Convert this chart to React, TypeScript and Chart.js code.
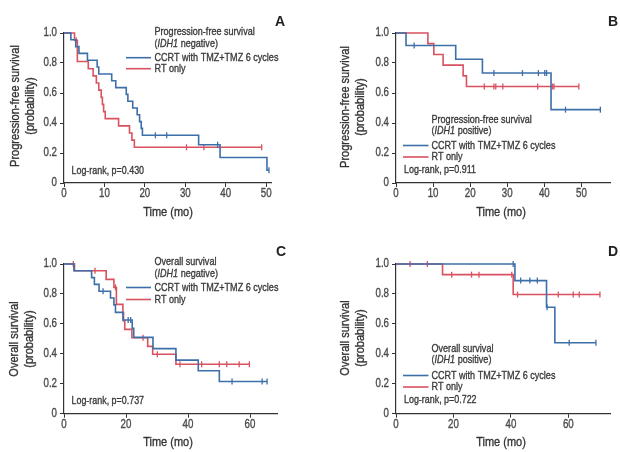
import React, { useEffect, useRef } from 'react';
import { Chart, registerables } from 'chart.js';
Chart.register(...registerables);

const FONT = "'Liberation Sans', Arial, sans-serif";
const SX = 0.81; // horizontal condensing to mimic a condensed typeface
const BLUE = '#3d6fa9';
const RED = '#d8525f';
const TXT = '#3a3a3a';
const TICK = '#4a4a4a';

// Panel A: Progression-free survival, IDH1 negative
const aBlueT = [1.7, 2.9, 3.7, 5.8, 8.2, 8.6, 11.8, 12.8, 15.4, 15.8, 17.0, 18.1, 18.7, 19.1, 19.4, 33.3, 38.6, 50.2];
const aBlueS = [0.955, 0.909, 0.864, 0.818, 0.773, 0.727, 0.682, 0.636, 0.591, 0.545, 0.5, 0.455, 0.409, 0.364, 0.318, 0.255, 0.17, 0.085];
const aBlueCens = [22.6, 25.4, 38.0, 50.7];
const aRedT = [2.6, 3.3, 6.0, 7.2, 8.0, 8.6, 9.2, 9.5, 9.8, 10.2, 13.5, 16.2, 16.8, 17.4];
const aRedS = [0.952, 0.81, 0.762, 0.714, 0.667, 0.619, 0.571, 0.524, 0.476, 0.429, 0.381, 0.333, 0.286, 0.238];
const aRedCens = [3.0, 30.3, 34.6, 48.9];

// Panel B: Progression-free survival, IDH1 positive
const bBlueT = [2.7, 16.1, 23.3, 41.8];
const bBlueS = [0.917, 0.825, 0.733, 0.489];
const bBlueCens = [4.9, 26.4, 34.1, 38.4, 40.1, 40.6, 45.7, 55.1];
const bRedT = [8.6, 10.2, 12.7, 18.1, 19.0];
const bRedS = [0.929, 0.857, 0.786, 0.714, 0.643];
const bRedCens = [23.8, 26.4, 26.9, 28.8, 38.2, 42.2, 42.6, 49.3];

// Panel C: Overall survival, IDH1 negative
const cBlueT = [3.2, 8.9, 9.8, 11.3, 15.0, 16.1, 16.6, 19.0, 22.0, 22.5, 28.7, 36.1, 43.3, 50.1];
const cBlueS = [0.955, 0.909, 0.864, 0.818, 0.773, 0.727, 0.677, 0.626, 0.57, 0.51, 0.435, 0.358, 0.287, 0.215];
const cBlueCens = [12.6, 20.7, 21.5, 54.2, 63.9, 65.5];
const cRedT = [3.4, 13.6, 16.1, 16.9, 19.0, 19.2, 19.6, 21.9, 27.0, 28.6, 36.1];
const cRedS = [0.955, 0.897, 0.844, 0.73, 0.675, 0.62, 0.563, 0.507, 0.45, 0.397, 0.33];
const cRedCens = [3.0, 10.0, 16.6, 25.5, 30.1, 37.4, 44.4, 50.1, 52.5, 56.5, 59.8];

// Panel D: Overall survival, IDH1 positive
const dBlueT = [41.4, 52.4, 55.3];
const dBlueS = [0.889, 0.711, 0.474];
const dBlueCens = [40.8, 43.4, 46.6, 49.2, 52.6, 60.3, 69.6];
const dRedT = [16.2, 40.8];
const dRedS = [0.929, 0.796];
const dRedCens = [4.9, 10.9, 19.4, 26.3, 28.9, 40.3, 42.3, 56.5, 61.7, 63.8, 71.0];

const yTicks = [0, 0.2, 0.4, 0.6, 0.8, 1.0];
const yTickLabels = ['0', '0.2', '0.4', '0.6', '0.8', '1.0'];
const seriesNames = ['CCRT with TMZ+TMZ 6 cycles', 'RT only'];

function stepAt(ts: number[], ss: number[], t: number) {
  let v = 1;
  for (let i = 0; i < ts.length; i++) if (ts[i] <= t) v = ss[i];
  return v;
}
function curve(ts: number[], ss: number[], cens: number[]) {
  const end = Math.max(ts[ts.length - 1], ...cens);
  const pts = [{ x: 0, y: 1 }];
  ts.forEach((t, i) => pts.push({ x: t, y: ss[i] }));
  pts.push({ x: end, y: ss[ss.length - 1] });
  return pts;
}
function censPts(ts: number[], ss: number[], cens: number[]) {
  return cens.map((t) => ({ x: t, y: stepAt(ts, ss, t) }));
}

function txt(ctx: CanvasRenderingContext2D, s: string, x: number, y: number, align: CanvasTextAlign, font: string, color: string, rot = 0, sx = SX, weight = 0.35) {
  ctx.save();
  ctx.font = font;
  ctx.fillStyle = color;
  ctx.strokeStyle = color;
  ctx.lineWidth = weight;
  ctx.lineJoin = 'round';
  ctx.textAlign = align;
  ctx.textBaseline = 'middle';
  ctx.translate(x, y);
  if (rot) ctx.rotate(rot);
  ctx.scale(sx, 1);
  ctx.fillText(s, 0, 0);
  if (weight > 0) ctx.strokeText(s, 0, 0);
  const w = ctx.measureText(s).width * sx;
  ctx.restore();
  return w;
}

type PanelDef = {
  left: number; top: number; w: number; h: number;
  pad: { left: number; top: number; right: number; bottom: number };
  xMax: number; xStep: number;
  blue: [number[], number[], number[]]; red: [number[], number[], number[]];
  letter: string; letterPos: [number, number];
  header: string; idh: string; pval: string;
  hx: number; hy: number; lineX: [number, number]; textX: number; l1y: number; l2y: number;
  logX: number; logY: number;
  xTitle: [number, number]; yTitle: string; yTitleX: [number, number]; yTitleY: number;
};

const panels: PanelDef[] = [
  {
    left: 0, top: 0, w: 310, h: 226, pad: { left: 34, top: 33, right: 39, bottom: 23 },
    xMax: 51.2, xStep: 10, blue: [aBlueT, aBlueS, aBlueCens], red: [aRedT, aRedS, aRedCens],
    letter: 'A', letterPos: [280, 22], header: 'Progression-free survival', idh: 'negative', pval: 'Log-rank, p=0.430',
    hx: 154.5, hy: 32, lineX: [126, 151], textX: 154.5, l1y: 57.7, l2y: 68.7, logX: 71.5, logY: 170.5,
    xTitle: [168, 212], yTitle: 'Progression-free survival', yTitleX: [15, 30.5], yTitleY: 106,
  },
  {
    left: 310, top: 0, w: 310, h: 226, pad: { left: 56, top: 33, right: 10, bottom: 23 },
    xMax: 57.7, xStep: 10, blue: [bBlueT, bBlueS, bBlueCens], red: [bRedT, bRedS, bRedCens],
    letter: 'B', letterPos: [613, 22], header: 'Progression-free survival', idh: 'positive', pval: 'Log-rank, p=0.911',
    hx: 431.5, hy: 119.5, lineX: [403, 428.5], textX: 431.5, l1y: 145.5, l2y: 157, logX: 404, logY: 169.5,
    xTitle: [501, 212], yTitle: 'Progression-free survival', yTitleX: [345, 360], yTitleY: 107,
  },
  {
    left: 0, top: 226, w: 310, h: 226, pad: { left: 34, top: 38, right: 33, bottom: 18.3 },
    xMax: 68.7, xStep: 20, blue: [cBlueT, cBlueS, cBlueCens], red: [cRedT, cRedS, cRedCens],
    letter: 'C', letterPos: [281, 252], header: 'Overall survival', idh: 'negative', pval: 'Log-rank, p=0.737',
    hx: 154.5, hy: 262, lineX: [126, 151], textX: 154.5, l1y: 287.5, l2y: 299.5, logX: 71.5, logY: 400.5,
    xTitle: [168, 442], yTitle: 'Overall survival', yTitleX: [14, 29.5], yTitleY: 339,
  },
  {
    left: 310, top: 226, w: 310, h: 226, pad: { left: 56, top: 38, right: 10, bottom: 18.3 },
    xMax: 74.5, xStep: 20, blue: [dBlueT, dBlueS, dBlueCens], red: [dRedT, dRedS, dRedCens],
    letter: 'D', letterPos: [613, 252], header: 'Overall survival', idh: 'positive', pval: 'Log-rank, p=0.722',
    hx: 431.5, hy: 348.5, lineX: [403, 428.5], textX: 431.5, l1y: 375.5, l2y: 387, logX: 404, logY: 400,
    xTitle: [501, 442], yTitle: 'Overall survival', yTitleX: [345, 360], yTitleY: 338,
  },
];

function Panel({ p }: { p: PanelDef }) {
  const ref = useRef<HTMLCanvasElement | null>(null);
  useEffect(() => {
    const ox = p.left, oy = p.top;
    const textPlugin = {
      id: 'kmText',
      afterDraw(chart: any) {
        const ctx = chart.ctx as CanvasRenderingContext2D;
        const xs = chart.scales.x, ys = chart.scales.y, area = chart.chartArea;
        // tick labels
        const tf = `12px ${FONT}`;
        yTicks.forEach((v, i) => {
          txt(ctx, yTickLabels[i], area.left - 7, ys.getPixelForValue(v), 'right', tf, TICK);
        });
        for (let v = 0; v <= p.xMax + 1e-9; v += p.xStep) {
          txt(ctx, String(v), xs.getPixelForValue(v), area.bottom + 11, 'center', tf, TICK);
        }
        ctx.save();
        ctx.translate(-ox, -oy);
        // panel letter
        txt(ctx, p.letter, p.letterPos[0], p.letterPos[1], 'center', `bold 14px ${FONT}`, '#222', 0, 1, 0);
        // legend header
        const lf = `11.2px ${FONT}`;
        txt(ctx, p.header, p.hx, p.hy, 'left', lf, TXT);
        let x = p.hx;
        const y2 = p.hy + 11.5;
        x += txt(ctx, '(', x, y2, 'left', lf, TXT);
        x += txt(ctx, 'IDH1', x, y2, 'left', `italic 11.2px ${FONT}`, TXT);
        txt(ctx, ' ' + p.idh + ')', x, y2, 'left', lf, TXT);
        // legend entries
        ([[BLUE, p.l1y, seriesNames[0]], [RED, p.l2y, seriesNames[1]]] as any[]).forEach(([c, yy, name]) => {
          ctx.strokeStyle = c;
          ctx.lineWidth = 1.6;
          ctx.beginPath();
          ctx.moveTo(p.lineX[0], yy);
          ctx.lineTo(p.lineX[1], yy);
          ctx.stroke();
          txt(ctx, name, p.textX, yy, 'left', lf, TXT);
        });
        txt(ctx, p.pval, p.logX, p.logY, 'left', `11px ${FONT}`, TXT);
        // axis titles
        const af = `13.6px ${FONT}`;
        txt(ctx, 'Time (mo)', p.xTitle[0], p.xTitle[1], 'center', af, '#333');
        [p.yTitle, '(probability)'].forEach((s, i) => {
          txt(ctx, s, p.yTitleX[i], p.yTitleY, 'center', af, '#333', -Math.PI / 2);
        });
        ctx.restore();
      },
    };
    const lineDs = (d: [number[], number[], number[]], color: string) => ({
      data: curve(d[0], d[1], d[2]), borderColor: color, borderWidth: 1.6, stepped: 'before',
      pointRadius: 0, fill: false, clip: false,
    });
    const censDs = (d: [number[], number[], number[]], color: string) => ({
      data: censPts(d[0], d[1], d[2]), showLine: false, pointStyle: 'line', rotation: 90,
      pointRadius: 3, pointBorderColor: color, pointBackgroundColor: color, pointBorderWidth: 1.3,
      borderColor: color, clip: false,
    });
    const chart = new Chart(ref.current as HTMLCanvasElement, {
      type: 'line',
      data: {
        datasets: [lineDs(p.blue, BLUE), censDs(p.blue, BLUE), lineDs(p.red, RED), censDs(p.red, RED)] as any,
      },
      options: {
        responsive: false,
        animation: false,
        events: [],
        layout: { padding: p.pad },
        plugins: { legend: { display: false }, tooltip: { enabled: false } },
        scales: {
          x: {
            type: 'linear', min: 0, max: p.xMax,
            afterFit: (s: any) => { s.height = 20; },
            ticks: { stepSize: p.xStep, includeBounds: false, display: false },
            grid: { display: true, drawOnChartArea: false, drawTicks: true, tickLength: 4, color: '#333', lineWidth: 1 },
            border: { display: true, color: '#333', width: 1.2 },
          },
          y: {
            type: 'linear', min: 0, max: 1,
            afterFit: (s: any) => { s.width = 30; },
            afterBuildTicks: (s: any) => { s.ticks = yTicks.map((v) => ({ value: v })); },
            ticks: { display: false },
            grid: { display: true, drawOnChartArea: false, drawTicks: true, tickLength: 4, color: '#333', lineWidth: 1 },
            border: { display: true, color: '#333', width: 1.2 },
          },
        },
      } as any,
      plugins: [textPlugin],
    });
    return () => chart.destroy();
  }, []);
  return (
    <canvas
      ref={ref}
      width={p.w}
      height={p.h}
      style={{ position: 'absolute', left: p.left, top: p.top, width: p.w, height: p.h }}
    />
  );
}

export default function App() {
  return (
    <div style={{ position: 'absolute', left: 0, top: 0, width: 620, height: 452, background: '#fff', overflow: 'hidden' }}>
      {panels.map((p, i) => (
        <Panel key={i} p={p} />
      ))}
    </div>
  );
}
